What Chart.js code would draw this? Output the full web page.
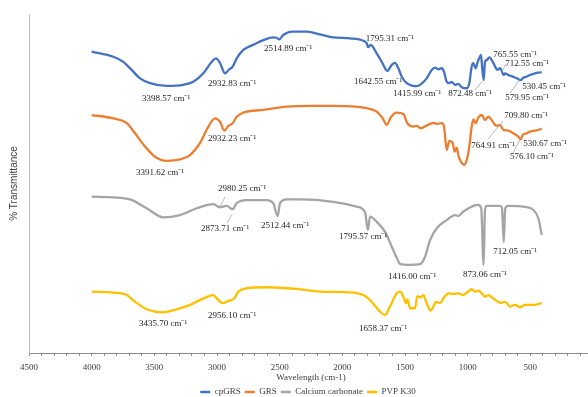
<!DOCTYPE html>
<html>
<head>
<meta charset="utf-8">
<script src="https://cdn.jsdelivr.net/npm/chart.js@4/dist/chart.umd.min.js"></script>
<style>
  html, body { margin: 0; padding: 0; background: #fff; overflow: hidden; }
  #wrap { width: 616px; height: 397px; }
</style>
</head>
<body>
<div id="wrap"><canvas id="ftir" width="616" height="397"></canvas></div>
<script>
// FTIR spectra, wavenumber (cm-1) against offset % transmittance
const cpGrsWavenumber = [4000,3827,3748,3681,3614,3535,3401,3269,3189,3109,3042,3008,2976,2936,2902,2875,2843,2790,2710,2630,2551,2524,2505,2471,2404,2284,2178,2072,1939,1833,1806,1795,1774,1726,1686,1652,1642,1606,1580,1553,1526,1486,1434,1416,1380,1327,1287,1261,1234,1207,1189,1167,1146,1127,1101,1075,1047,1008,987,968,955,936,920,909,893,885,872,862,848,827,800,774,765,742,712,702,676,636,596,580,556,530,502,463,436,409];
const cpGrsValues = [88.9,87.4,85.9,83.5,81.0,79.6,78.8,79.1,80.0,82.5,85.9,86.9,85.5,82.5,83.7,84.5,86.9,89.4,90.9,92.3,93.1,93.0,92.5,93.8,94.8,94.8,94.0,93.1,92.8,92.1,91.4,90.2,90.9,88.4,85.9,83.5,83.2,85.0,85.6,84.0,81.5,79.6,78.8,78.7,79.1,81.0,83.5,84.2,83.7,84.0,83.0,80.0,79.6,80.0,79.1,79.4,78.4,78.1,79.6,84.5,85.5,84.0,85.9,86.9,87.9,84.5,80.5,85.9,86.4,87.2,85.9,84.0,83.5,84.0,82.0,82.5,82.0,81.5,80.8,80.5,81.2,81.5,82.0,82.5,82.7,82.8];

const grsWavenumber = [4000,3827,3720,3654,3574,3495,3401,3295,3215,3136,3069,3016,2976,2942,2910,2875,2843,2790,2630,2444,2232,2072,1806,1726,1678,1646,1614,1566,1513,1482,1434,1407,1375,1332,1300,1274,1242,1207,1189,1167,1146,1119,1103,1087,1075,1061,1029,1008,987,968,955,936,915,888,862,835,808,782,764,742,715,676,636,596,576,561,530,502,463,409];
const grsValues = [70.2,69.2,67.8,64.8,60.9,57.9,56.7,57.1,58.4,61.9,66.8,69.2,68.2,65.6,67.0,67.8,69.7,70.9,71.7,72.7,72.9,72.9,72.2,71.2,69.2,67.3,69.5,70.9,70.5,67.8,66.8,67.0,66.3,67.0,67.6,67.9,67.6,67.8,66.8,59.9,62.6,61.9,59.4,60.6,58.4,56.9,55.5,56.9,60.9,66.8,68.9,67.8,69.5,70.2,68.7,69.7,68.7,67.3,67.0,67.3,65.8,65.6,64.8,63.8,63.0,64.3,64.8,65.3,65.6,66.1];

const caco3Wavenumber = [4000,3827,3694,3561,3428,3295,3162,3029,2982,2922,2875,2843,2763,2603,2551,2516,2497,2444,2338,2072,1885,1819,1796,1779,1726,1660,1606,1566,1540,1460,1380,1340,1300,1247,1167,1101,1075,1035,955,915,892,873,862,848,742,726,712,700,676,529,476,436,409];
const caco3Values = [46.1,45.9,45.3,42.7,40.0,40.7,42.7,43.9,43.0,43.4,42.4,44.2,45.1,45.1,44.2,40.4,44.2,45.3,45.3,44.6,43.2,41.5,36.3,40.2,38.7,35.8,31.4,28.1,26.3,26.0,26.2,28.4,33.3,36.8,39.2,40.7,40.4,41.7,43.4,43.7,42.7,26.0,42.0,43.4,43.4,42.7,32.7,42.7,43.4,43.0,42.2,39.7,34.8];

const pvpWavenumber = [4000,3827,3720,3654,3561,3441,3322,3215,3109,3029,3002,2954,2910,2870,2830,2763,2603,2364,2178,1939,1833,1766,1700,1660,1620,1566,1540,1513,1492,1481,1460,1420,1402,1375,1354,1327,1295,1274,1253,1221,1189,1154,1114,1075,1035,1008,968,941,915,888,862,835,795,742,702,662,622,582,542,476,409];
const pvpValues = [18.1,17.8,17.1,15.1,12.9,12.0,12.9,14.2,16.1,17.1,16.1,14.7,15.4,15.8,18.1,19.1,19.4,18.9,18.1,17.9,17.1,15.1,12.2,11.2,13.7,17.6,18.1,16.6,14.7,15.8,13.2,13.2,16.8,16.4,17.1,14.7,12.5,13.7,15.1,14.7,16.4,17.6,17.4,17.6,17.1,17.8,18.8,18.1,18.4,17.6,16.6,17.1,16.1,14.8,15.1,13.7,14.2,13.5,14.2,14.2,14.7];

const seriesNames = ['cpGRS', 'GRS', 'Calcium carbonate', 'PVP K30'];
const xTickValues = [4500, 4000, 3500, 3000, 2500, 2000, 1500, 1000, 500, 0];

// Peak labels, anchored in axis units (wavenumber, transmittance)
const peakLabels = [
  ['3398.57 cm⁻¹', 3407, 74.9], ['2932.83 cm⁻¹', 2880, 79.6], ['2514.89 cm⁻¹', 2433, 89.7],
  ['1795.31 cm⁻¹', 1620, 92.6], ['1642.55 cm⁻¹', 1715, 79.9], ['1415.99 cm⁻¹', 1404, 76.4],
  ['872.48 cm⁻¹', 981, 76.4], ['765.55 cm⁻¹', 622, 87.9], ['712.55 cm⁻¹', 526, 85.5],
  ['530.45 cm⁻¹', 391, 78.5], ['579.95 cm⁻¹', 526, 75.2],
  ['3391.62 cm⁻¹', 3455, 53.1], ['2932.23 cm⁻¹', 2880, 63.1], ['709.80 cm⁻¹', 534, 69.9],
  ['764.91 cm⁻¹', 798, 61.1], ['530.67 cm⁻¹', 383, 61.9], ['576.10 cm⁻¹', 487, 57.8],
  ['2980.25 cm⁻¹', 2800, 48.4], ['2873.71 cm⁻¹', 2936, 36.6], ['2512.44 cm⁻¹', 2457, 37.5],
  ['1795.57 cm⁻¹', 1835, 34.2], ['1416.00 cm⁻¹', 1444, 22.4], ['873.06 cm⁻¹', 862, 23.0],
  ['712.05 cm⁻¹', 622, 29.8],
  ['3435.70 cm⁻¹', 3431, 8.6], ['2956.10 cm⁻¹', 2880, 10.9], ['1658.37 cm⁻¹', 1675, 7.1]
];
// Leader lines from labels to their peaks: [x1, y1, x2, y2] in axis units
const leaderLines = [
  [941, 77.6, 882, 80.2], [694, 85.3, 726, 82.9], [662, 76.7, 582, 80.8],
  [838, 63.1, 718, 68.4], [638, 59.0, 582, 63.1],
  [2936, 46.0, 2976, 43.1], [2920, 38.3, 2880, 40.9]
];

const toPoints = (xs, ys) => xs.map((x, i) => ({ x: x, y: ys[i] }));
const colors = ['#4472C4', '#ED7D31', '#A5A5A5', '#FFC000'];
const serif = 'Liberation Serif, Times New Roman, serif';

const peakLabelPlugin = {
  id: 'peakLabels',
  afterDatasetsDraw(chart) {
    const { ctx, scales: { x, y } } = chart;
    ctx.save();
    ctx.strokeStyle = '#A6A6A6';
    ctx.lineWidth = 0.8;
    leaderLines.forEach(([x1, y1, x2, y2]) => {
      ctx.beginPath();
      ctx.moveTo(x.getPixelForValue(x1), y.getPixelForValue(y1));
      ctx.lineTo(x.getPixelForValue(x2), y.getPixelForValue(y2));
      ctx.stroke();
    });
    ctx.fillStyle = '#262626';
    ctx.font = '9px ' + serif;
    ctx.textAlign = 'center';
    ctx.textBaseline = 'middle';
    peakLabels.forEach(([text, wn, v]) => {
      ctx.fillText(text, x.getPixelForValue(wn), y.getPixelForValue(v));
    });
    ctx.restore();
  }
};

// The legend keeps a slim layout box; it is raised under the axis title and
// centred on the full canvas width rather than the padded layout width
const legendNudge = {
  id: 'legendNudge',
  afterLayout(chart) {
    const lg = chart.legend;
    if (lg) {
      lg.top -= 2.5;
      lg.left += 11.5;
      lg.right += 11.5;
    }
  }
};

const datasets = [
  [cpGrsWavenumber, cpGrsValues],
  [grsWavenumber, grsValues],
  [caco3Wavenumber, caco3Values],
  [pvpWavenumber, pvpValues]
].map(([xs, ys], i) => ({
  label: seriesNames[i],
  data: toPoints(xs, ys),
  borderColor: colors[i],
  backgroundColor: colors[i],
  borderWidth: 2.3,
  pointRadius: 0,
  cubicInterpolationMode: 'monotone',
  fill: false
}));

new Chart(document.getElementById('ftir'), {
  type: 'line',
  data: { datasets },
  options: {
    responsive: false,
    animation: false,
    devicePixelRatio: 1,
    layout: { padding: { top: 14, right: 23, left: 0, bottom: 0 } },
    plugins: {
      tooltip: { enabled: false },
      legend: {
        position: 'bottom',
        maxHeight: 11,
        labels: {
          usePointStyle: true,
          pointStyle: 'line',
          pointStyleWidth: 10,
          boxHeight: 8,
          padding: 4,
          color: '#404040',
          font: { family: serif, size: 9 }
        }
      }
    },
    scales: {
      x: {
        type: 'linear',
        reverse: true,
        min: 0,
        max: 4500,
        afterBuildTicks(scale) {
          const t = [];
          for (let v = 4500; v >= 0; v -= 100) t.push({ value: v });
          scale.ticks = t;
        },
        afterFit(scale) {
          scale.height = 44 - scale.chart.legend.height;
        },
        ticks: {
          autoSkip: false,
          maxRotation: 0,
          padding: 6,
          color: '#404040',
          font: { family: serif, size: 9 },
          callback: (v) => (xTickValues.includes(v) ? String(v) : '')
        },
        grid: { display: true, drawOnChartArea: false, drawTicks: true, tickLength: 3, color: '#8C8C8C' },
        border: { display: true, color: '#8C8C8C', width: 1 },
        title: {
          display: true,
          text: 'Wavelength (cm-1)',
          color: '#404040',
          font: { family: serif, size: 9 },
          padding: { top: 0, bottom: 2.6 }
        }
      },
      y: {
        min: 0,
        max: 100,
        afterFit(scale) { scale.width = 29; },
        ticks: { display: false },
        grid: { display: false },
        border: { display: true, color: '#BFBFBF', width: 1 },
        title: {
          display: true,
          text: '% Transmittance',
          color: '#404040',
          font: { family: 'Liberation Sans, Arial, sans-serif', size: 10 },
          padding: { top: 8, bottom: 0 }
        }
      }
    }
  },
  plugins: [peakLabelPlugin, legendNudge]
});
</script>
</body>
</html>
